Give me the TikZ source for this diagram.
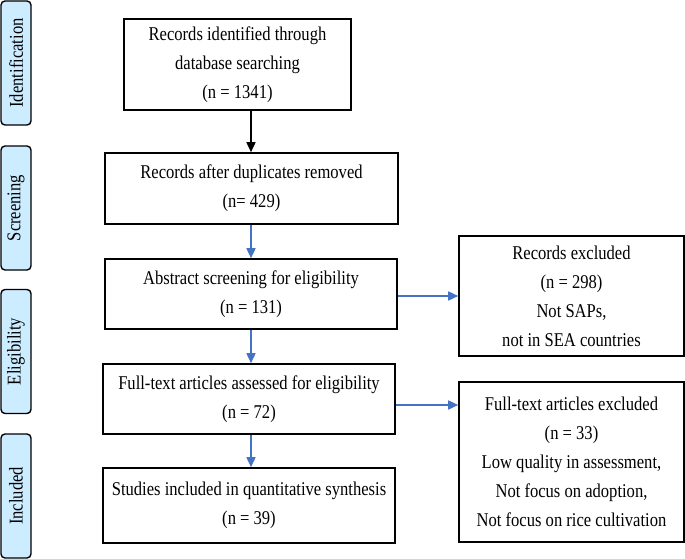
\documentclass[tikz,border=0pt]{standalone}
\usepackage{fontspec}
\setmainfont{Liberation Serif}[FakeStretch=0.85]
\usetikzlibrary{arrows.meta}
\definecolor{stageblue}{RGB}{204,236,255}
\definecolor{arrowblue}{RGB}{68,114,196}
\begin{document}
\begin{tikzpicture}[x=1pt,y=-1pt,
  txt/.style={font=\fontsize{19.5}{29}\selectfont},
  flowbox/.style={txt,draw=black,line width=1.6pt,align=center,inner sep=0pt,anchor=center},
  stagebox/.style={draw=black,fill=stageblue,line width=1.4pt,rounded corners=4pt,
     minimum width=30pt,minimum height=124pt,inner sep=0pt,anchor=center},
  stagetxt/.style={txt,rotate=90,anchor=center},
  blackarrow/.style={line width=1.6pt,draw=black,-{Triangle[length=10pt,width=9pt]}},
  bluearrow/.style={line width=1.6pt,draw=arrowblue,-{Triangle[length=10pt,width=9pt]}}]
\useasboundingbox (0,0) rectangle (685,559);
% stage labels
\node[stagebox] (L1) at (16,63) {};
\node[stagetxt] at (L1.center) {Identification};
\node[stagebox] (L2) at (16,208) {};
\node[stagetxt] at (L2.center) {Screening};
\node[stagebox] (L3) at (16,351.5) {};
\node[stagetxt] at (L3.center) {Eligibility};
\node[stagebox] (L4) at (16,496) {};
\node[stagetxt] at (L4.center) {Included};
% main flow
\node[flowbox,minimum width=227pt,minimum height=91pt] (B1) at (237.5,64.5)
  {Records identified through\\database searching\\(n = 1341)};
\node[flowbox,minimum width=293pt,minimum height=71pt] (B2) at (251.5,188.5)
  {Records after duplicates removed\\(n= 429)};
\node[flowbox,minimum width=292pt,minimum height=70pt] (B3) at (251,294)
  {Abstract screening for eligibility\\(n = 131)};
\node[flowbox,minimum width=292pt,minimum height=70pt] (B4) at (249,399)
  {Full-text articles assessed for eligibility\\(n = 72)};
\node[flowbox,minimum width=292pt,minimum height=75pt] (B5) at (249,505.5)
  {Studies included in quantitative synthesis\\(n = 39)};
% exclusion boxes
\node[flowbox,minimum width=225pt,minimum height=120pt] (R1) at (571.5,296)
  {Records excluded\\(n = 298)\\Not SAPs,\\not in SEA countries};
\node[flowbox,minimum width=225pt,minimum height=160pt] (R2) at (571.5,462)
  {Full-text articles excluded\\(n = 33)\\Low quality in assessment,\\Not focus on adoption,\\Not focus on rice cultivation};
% connectors
\coordinate (a1) at (251,0);
\draw[blackarrow] (a1 |- B1.south) -- (a1 |- B2.north);
\draw[bluearrow] (a1 |- B2.south) -- (a1 |- B3.north);
\draw[bluearrow] (a1 |- B3.south) -- (a1 |- B4.north);
\draw[bluearrow] (a1 |- B4.south) -- (a1 |- B5.north);
\coordinate (h1) at (0,296);
\coordinate (h2) at (0,405);
\draw[bluearrow] (B3.east |- h1) -- (R1.west |- h1);
\draw[bluearrow] (B4.east |- h2) -- (R2.west |- h2);
\end{tikzpicture}
\end{document}
